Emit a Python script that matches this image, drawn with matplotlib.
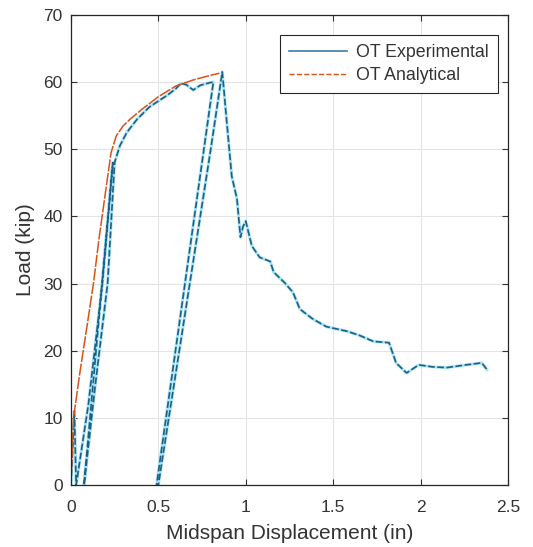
import matplotlib
matplotlib.use('Agg')
import matplotlib.pyplot as plt
from matplotlib.lines import Line2D

plt.rcParams['font.family'] = ['Liberation Sans', 'DejaVu Sans']

# experimental load-displacement record (cyclic, then post-peak softening)
exp_disp = [0.0, 0.02, 0.03, 0.10, 0.18, 0.24, 0.075, 0.14, 0.21, 0.25, 0.28, 0.32,
            0.38, 0.45, 0.55, 0.60, 0.63, 0.66, 0.70, 0.74, 0.78, 0.815,
            0.49, 0.50, 0.65, 0.80, 0.866, 0.89, 0.92, 0.95, 0.97, 0.985, 1.0,
            1.035, 1.08, 1.14, 1.16, 1.22, 1.27, 1.31, 1.38, 1.46, 1.58, 1.65,
            1.73, 1.82, 1.86, 1.92, 1.99, 2.07, 2.15, 2.26, 2.35, 2.38]
exp_load = [0.0, 11.0, 0.0, 12.0, 30.0, 48.0, 0.0, 15.0, 30.0, 48.0, 50.5, 52.5,
            54.5, 56.3, 58.0, 59.0, 59.8, 59.6, 58.8, 59.5, 59.8, 60.0,
            0.0, 0.0, 25.0, 50.0, 61.5, 54.5, 46.0, 42.6, 36.9, 38.5, 39.3,
            35.6, 33.9, 33.3, 31.7, 30.2, 28.7, 26.2, 24.8, 23.6, 22.9, 22.3,
            21.4, 21.2, 18.2, 16.7, 17.9, 17.6, 17.5, 17.9, 18.2, 17.2]

# analytical prediction up to peak
ana_disp = [0.0, 0.015, 0.05, 0.10, 0.13, 0.16, 0.20, 0.23, 0.26, 0.30, 0.34,
            0.40, 0.50, 0.60, 0.70, 0.80, 0.85]
ana_load = [0.0, 10.0, 16.5, 25.0, 30.2, 36.5, 44.0, 49.5, 52.0, 53.5, 54.5,
            55.8, 57.8, 59.4, 60.3, 61.0, 61.3]

orange = '#D95319'
txt = '#333333'

fig = plt.figure(figsize=(5.33, 5.47), dpi=100)
ax = fig.add_axes([0.133, 0.113, 0.820, 0.860])

ax.plot(exp_disp, exp_load, color='#a8e4f4', lw=2.2, solid_joinstyle='round')
ax.plot(exp_disp, exp_load, color='#1d5f86', lw=1.2, ls=(0, (4, 1.5)))
ax.plot(ana_disp, ana_load, color=orange, lw=1.1, ls=(0, (8, 1)))

ax.set_xlim(0, 2.5)
ax.set_ylim(0, 70)
ax.set_xticks([0, 0.5, 1, 1.5, 2, 2.5])
ax.set_xticklabels(['0', '0.5', '1', '1.5', '2', '2.5'])
ax.set_yticks(range(0, 71, 10))
ax.grid(True, color='#e3e3e3', lw=0.8)
ax.set_axisbelow(True)
ax.tick_params(direction='in', top=True, right=True, labelsize=12.5, colors=txt,
               length=4, width=0.8)
ax.tick_params(axis='x', pad=11)
ax.tick_params(axis='y', pad=6)
for s in ax.spines.values():
    s.set_color('#262626')
    s.set_linewidth(0.9)
ax.set_xlabel('Midspan Displacement (in)', fontsize=15, color=txt, labelpad=6)
ax.set_ylabel('Load (kip)', fontsize=15, color=txt, labelpad=6)

handles = [Line2D([], [], color='#3a7ca5', lw=1.2),
           Line2D([], [], color=orange, lw=1.0, ls='--')]
leg = ax.legend(handles, ['OT Experimental', 'OT Analytical'], loc='upper right',
                bbox_to_anchor=(0.977, 0.957), borderaxespad=0,
                fontsize=12.8, fancybox=False, edgecolor='#262626', framealpha=1,
                handlelength=3.3, handletextpad=0.5, borderpad=0.5, labelspacing=0.35)
leg.get_frame().set_linewidth(0.8)
for t in leg.get_texts():
    t.set_color(txt)

fig.savefig('out.png', dpi=100)
